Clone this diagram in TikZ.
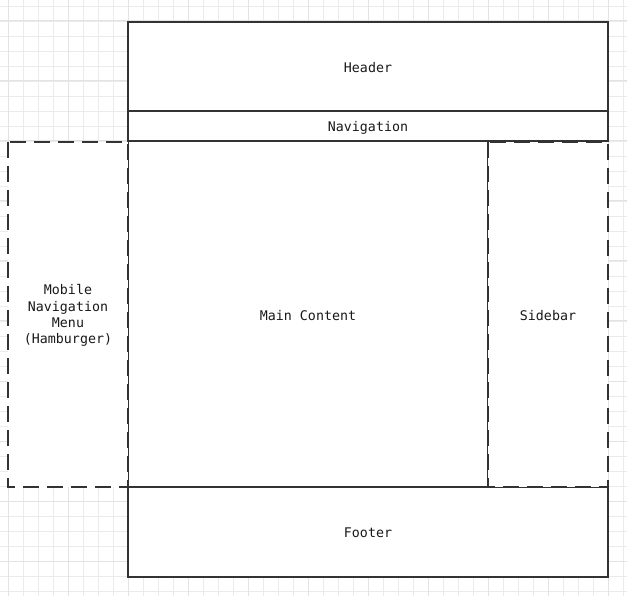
\documentclass[tikz,border=0pt]{standalone}
\usepackage{fontspec}
\setmonofont{DejaVu Sans Mono}
\begin{document}
\begin{tikzpicture}[x=1pt,y=-1pt,
  box/.style={draw=black!80, line width=2pt, fill=white},
  dbox/.style={draw=black!80, line width=2pt, fill=white, dash pattern=on 16pt off 8pt},
  lbl/.style={font=\ttfamily\fontsize{13.3}{16.3}\selectfont, text=black!90, align=center},
  minorgrid/.style={draw=black!8, line width=1pt},
  majorgrid/.style={draw=black!11, line width=1pt}]
\useasboundingbox (0,0) rectangle (627,596);
\fill[white] (0,0) rectangle (627,596);
\foreach \i in {0,...,41} {
  \draw[minorgrid] (8.5+15*\i,0) -- (8.5+15*\i,596);
}
\foreach \i in {0,...,39} {
  \draw[minorgrid] (0,6.5+15*\i) -- (627,6.5+15*\i);
}
\foreach \i in {0,...,10} {
  \draw[majorgrid] (8.5+60*\i,0) -- (8.5+60*\i,596);
}
\foreach \i in {0,...,9} {
  \draw[majorgrid] (0,21+60*\i) -- (627,21+60*\i);
}
% solid boxes
\draw[box] (128,22) rectangle (608,111);
\node[lbl] (header) at (368,68) {Header};
\draw[box] (128,111) rectangle (608,141);
\node[lbl] (nav) at (368,127.5) {Navigation};
\draw[box] (128,141) rectangle (488,487);
\node[lbl] (main) at (308,316) {Main Content};
\draw[box] (128,487) rectangle (608,577);
\node[lbl] (footer) at (368,533) {Footer};
% dashed boxes
\draw[dbox] (8,142) rectangle (128,487);
\node[lbl] (mobile) at (68,315.5) {Mobile\\Navigation\\Menu\\(Hamburger)};
\draw[dbox] (488,142) rectangle (608,487);
\node[lbl] (sidebar) at (548,316) {Sidebar};
\end{tikzpicture}
\end{document}
